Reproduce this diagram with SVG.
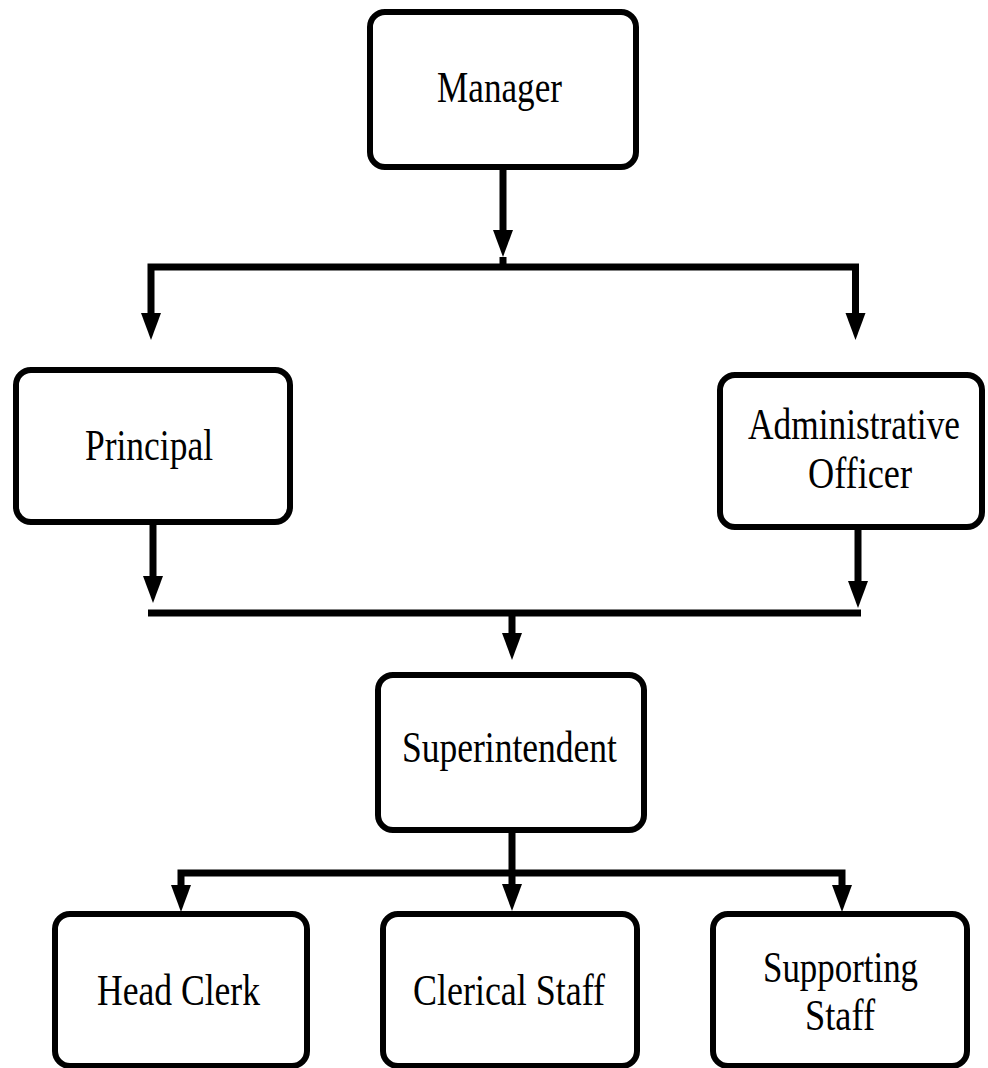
<svg xmlns="http://www.w3.org/2000/svg" width="988" height="1068" viewBox="0 0 988 1068">
<style>
.box{fill:#fff;stroke:#000;stroke-width:6}
.lbl{font-family:"Liberation Serif","Times New Roman",serif;font-size:36px;fill:#000}
.con{fill:none;stroke:#000;stroke-width:7;stroke-linejoin:miter}
</style>
<defs>
<marker id="ah" markerUnits="userSpaceOnUse" markerWidth="28" markerHeight="22" refX="0" refY="10" orient="auto-start-reverse" viewBox="0 0 28 20">
<path d="M0,0 L27,10 L0,20 Z" fill="#000"/>
</marker>
</defs>
<rect width="988" height="1068" fill="#fff"/>
<g id="connectors">
<path class="con" d="M503,167 V230" marker-end="url(#ah)"/>
<path class="con" d="M503,257 V270" stroke-width="5"/>
<path class="con" d="M151,313 V267 H855.5 V313" marker-start="url(#ah)" marker-end="url(#ah)"/>
<path class="con" d="M153,522 V576" marker-end="url(#ah)"/>
<path class="con" d="M858,527 V581" marker-end="url(#ah)"/>
<path class="con" d="M148,613 H861"/>
<path class="con" d="M512,613 V633" marker-end="url(#ah)"/>
<path class="con" d="M512,830 V884" marker-end="url(#ah)"/>
<path class="con" d="M181,885 V873 H842 V885" marker-start="url(#ah)" marker-end="url(#ah)"/>
</g>
<g id="manager">
<rect class="box" x="370" y="12" width="266" height="155" rx="15"/>
<text class="lbl" transform="translate(437,102) scale(1,1.22)" textLength="125" lengthAdjust="spacingAndGlyphs">Manager</text>
</g>
<g id="principal">
<rect class="box" x="16" y="370" width="274" height="152" rx="15"/>
<text class="lbl" transform="translate(85,460) scale(1,1.22)" textLength="128" lengthAdjust="spacingAndGlyphs">Principal</text>
</g>
<g id="admin-officer">
<rect class="box" x="720" y="375" width="262" height="152" rx="15"/>
<text class="lbl" transform="translate(748,439) scale(1,1.22)" textLength="212" lengthAdjust="spacingAndGlyphs">Administrative</text>
<text class="lbl" transform="translate(808,488) scale(1,1.22)" textLength="104" lengthAdjust="spacingAndGlyphs">Officer</text>
</g>
<g id="superintendent">
<rect class="box" x="378" y="675" width="266" height="155" rx="15"/>
<text class="lbl" transform="translate(402,762) scale(1,1.22)" textLength="215" lengthAdjust="spacingAndGlyphs">Superintendent</text>
</g>
<g id="head-clerk">
<rect class="box" x="55" y="914" width="252" height="152" rx="15"/>
<text class="lbl" transform="translate(97,1005) scale(1,1.22)" textLength="163" lengthAdjust="spacingAndGlyphs">Head Clerk</text>
</g>
<g id="clerical-staff">
<rect class="box" x="383" y="914" width="254" height="152" rx="15"/>
<text class="lbl" transform="translate(413,1005) scale(1,1.22)" textLength="192" lengthAdjust="spacingAndGlyphs">Clerical Staff</text>
</g>
<g id="supporting-staff">
<rect class="box" x="713" y="914" width="254" height="152" rx="15"/>
<text class="lbl" transform="translate(763,982) scale(1,1.22)" textLength="155" lengthAdjust="spacingAndGlyphs">Supporting</text>
<text class="lbl" transform="translate(805,1030) scale(1,1.22)" textLength="70" lengthAdjust="spacingAndGlyphs">Staff</text>
</g>
</svg>
